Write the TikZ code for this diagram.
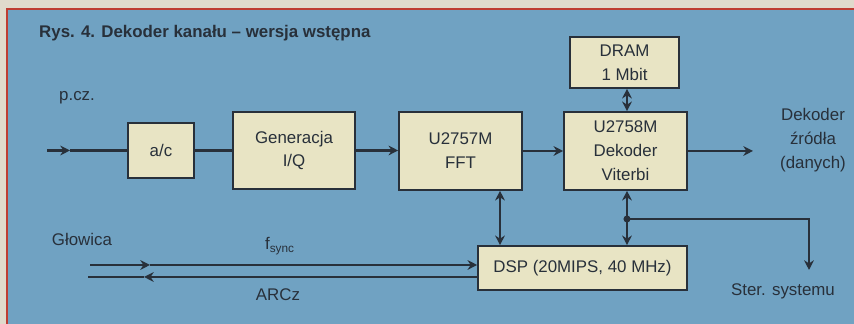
\documentclass[tikz,border=0pt]{standalone}
\usepackage{fontspec}
\setmainfont{Liberation Sans}
\usepackage{tikz}
\usetikzlibrary{positioning, arrows.meta}
\definecolor{paper}{RGB}{224,218,204}
\definecolor{panelblue}{RGB}{112,162,194}
\definecolor{boxfill}{RGB}{232,228,196}
\definecolor{framered}{RGB}{190,60,50}
\definecolor{ink}{RGB}{40,48,58}
\newcommand{\blockfont}{\fontsize{9.6}{13.6}\selectfont}
\tikzset{
	blockbox/.style={draw=ink, line width=0.9pt, fill=boxfill, align=center, inner sep=0pt, text=ink, font=\blockfont}
}
\tikzset{
	sigline/.style={draw=ink, line width=1.4pt},
	labeltext/.style={font=\blockfont, text=ink, align=center}
}

\begin{document}
\begin{tikzpicture}[>={Stealth[length=5.5pt,width=5.5pt]}]
      \useasboundingbox (0,0) rectangle (17.08,6.48);
      % page and the blue panel
      \fill[paper] (0,0) rectangle (17.08,6.48);
      \fill[panelblue] (0.14,0) rectangle (17.08,6.30);
      \draw[framered, line width=1.2pt] (0.14,0) -- (0.14,6.30) -- (17.08,6.30);
      \node[anchor=west, text=ink, font=\bfseries\fontsize{9.6}{11}\selectfont] (title) at (0.66,5.82) {Rys. 4. Dekoder kanału – wersja wstępna};
      % blocks
      \node[blockbox, minimum width=1.32cm, minimum height=1.10cm] (ac) at (3.22,3.47) {a/c};
      \node[blockbox, minimum width=2.44cm, minimum height=1.54cm] (gen) at (5.88,3.47) {Generacja\\I/Q};
      \node[blockbox, minimum width=2.46cm, minimum height=1.56cm] (fft) at (9.21,3.46) {U2757M\\FFT};
      \node[blockbox, minimum width=2.46cm, minimum height=1.56cm] (vit) at (12.51,3.46) {U2758M\\Dekoder\\Viterbi};
      \node[blockbox, minimum width=2.18cm, minimum height=1.02cm] (dram) at (12.49,5.23) {DRAM\\1 Mbit};
      \node[blockbox, minimum width=4.18cm, minimum height=0.88cm] (dsp) at (11.65,1.12) {DSP (20MIPS, 40 MHz)};
      % free labels
      \node[labeltext] (pcz) at (1.54,4.52) {p.cz.};
      \node[labeltext] (dek) at (16.26,3.68) {Dekoder\\źródła\\(danych)};
      \node[labeltext] (glow) at (1.64,1.70) {Głowica};
      \node[labeltext] (fsync) at (5.60,1.56) {f\textsubscript{sync}};
      \node[labeltext] (arcz) at (5.56,0.58) {ARCz};
      \node[labeltext] (ster) at (15.66,0.66) {Ster. systemu};
      % main signal path
      \coordinate (pin) at (0.94,3.47);
      \coordinate (pmid) at (1.40,3.47);
      \draw[sigline, ->] (pin) -- (pmid);
      \draw[sigline] (pmid) -- (ac.west);
      \draw[sigline] (ac.east) -- (gen.west |- ac.east);
      \draw[sigline, ->] (gen.east) -- (fft.west |- gen.east);
      \draw[sigline, ->] (fft.east) -- (vit.west);
      \coordinate (vout) at (15.06,3.46);
      \draw[sigline, ->] (vit.east) -- (vout);
      % memory and the DSP buses
      \coordinate (fftbus) at (10.00,2.10);
      \coordinate (junc) at (12.54,2.10);
      \draw[sigline, <->] (dram.south -| junc) -- (vit.north -| junc);
      \draw[sigline, <->] (fft.south -| fftbus) -- (dsp.north -| fftbus);
      \draw[sigline, <->] (vit.south -| junc) -- (dsp.north -| junc);
      % system control
      \coordinate (sterc) at (16.18,2.10);
      \coordinate (sterend) at (16.18,1.08);
      \fill[ink] (junc) circle (2pt);
      \draw[sigline, ->] (junc) -- (sterc) -- (sterend);
      % head lines
      \coordinate (gtop) at (1.80,1.18);
      \coordinate (gtopm) at (3.00,1.18);
      \coordinate (gbot) at (1.76,0.94);
      \coordinate (gbotm) at (2.88,0.94);
      \draw[sigline, ->] (gtop) -- (gtopm);
      \draw[sigline, ->] (gtopm) -- (dsp.west |- gtop);
      \draw[sigline, ->] (dsp.west |- gbot) -- (gbotm);
      \draw[sigline] (gbotm) -- (gbot);
    \end{tikzpicture}
\end{document}
